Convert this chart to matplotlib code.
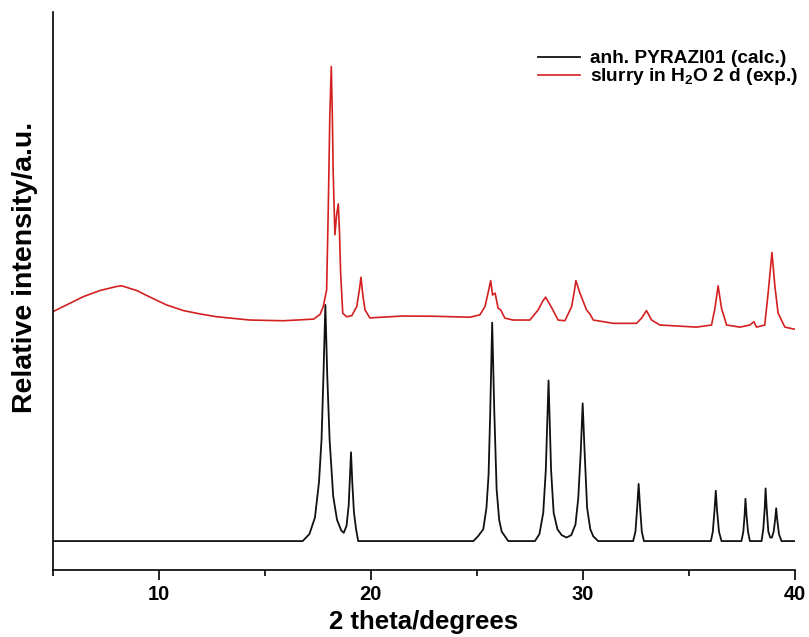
import matplotlib
matplotlib.use('Agg')
from matplotlib import pyplot as plt

plt.rcParams['font.family'] = ['Liberation Sans', 'DejaVu Sans']
plt.rcParams['font.weight'] = 'bold'
plt.rcParams['mathtext.fontset'] = 'custom'
plt.rcParams['mathtext.rm'] = 'Liberation Sans:bold'
plt.rcParams['mathtext.bf'] = 'Liberation Sans:bold'

# calculated pattern (anh. PYRAZI01)
calc_2theta = [5, 16.78, 17.1, 17.36, 17.55, 17.67, 17.76, 17.85, 17.94, 18.05, 18.22, 18.4,
               18.6, 18.72, 18.85, 18.95, 19.0, 19.06, 19.12, 19.2, 19.3, 19.4,
               24.83, 25.05, 25.3, 25.45, 25.55, 25.63, 25.72, 25.82, 25.93, 26.05, 26.17, 26.48,
               27.74, 27.95, 28.13, 28.25, 28.38, 28.5, 28.62, 28.8, 29.0, 29.23, 29.45, 29.65,
               29.78, 29.9, 29.99, 30.08, 30.2, 30.35, 30.49, 30.72,
               32.37, 32.48, 32.56, 32.63, 32.7, 32.78, 32.88,
               36.04, 36.13, 36.21, 36.27, 36.33, 36.42, 36.54,
               37.48, 37.57, 37.63, 37.67, 37.72, 37.79, 37.88,
               38.43, 38.51, 38.58, 38.62, 38.67, 38.75, 38.84, 38.92, 39.0, 39.07, 39.12,
               39.17, 39.25, 39.37, 40]
calc_int = [0, 0, 3, 10, 25, 43, 70, 100, 70, 43, 19, 9,
            4.5, 3.5, 6.5, 15, 25, 37.6, 25, 12, 5, 0,
            0, 2, 5, 14, 28, 55, 92.5, 55, 22, 9, 4, 0,
            0, 3, 12, 30, 68, 30, 12, 5, 2.5, 1.5, 2.5, 7,
            18, 38, 58.3, 38, 14, 5, 2, 0,
            0, 4, 14, 24.2, 14, 4, 0,
            0, 4, 13, 21.3, 13, 4, 0,
            0, 4, 11, 17.9, 11, 4, 0,
            0, 5, 14, 22.3, 14, 4, 1.5, 1.5, 4, 9, 13.9,
            9, 3, 0, 0]

# experimental pattern (slurry in H2O, 2 d), traced, already offset
exp_2theta = [5.01, 5.8, 6.43, 7.22, 8.0, 8.24, 8.95, 9.58, 10.36, 11.15, 11.93, 12.72, 14.29,
              15.86, 16.5, 17.3, 17.6, 17.75, 17.91, 17.99, 18.06, 18.13, 18.18, 18.22, 18.3,
              18.38, 18.46, 18.52, 18.57, 18.67, 18.85, 19.1, 19.33, 19.45, 19.53, 19.62, 19.72,
              19.95, 21.5, 23.0, 24.67, 25.14, 25.38, 25.55, 25.65, 25.74, 25.86, 26.0, 26.12,
              26.32, 26.71, 27.5, 27.89, 28.1, 28.24, 28.41, 28.6, 28.83, 29.15, 29.47, 29.6,
              29.67, 29.86, 30.17, 30.33, 30.49, 31.43, 32.53, 32.77, 33.0, 33.24, 33.63, 35.36,
              36.07, 36.23, 36.38, 36.54, 36.78, 37.41, 37.88, 38.07, 38.19, 38.58, 38.74, 38.92,
              39.06, 39.21, 39.53, 40]
exp_int = [97.2, 100.7, 103.5, 106.1, 107.8, 108.1, 106.1, 103.3, 100.0, 97.6, 96.2, 95.0, 93.6,
           93.3, 93.6, 94, 96, 99.3, 106.4, 141.7, 180, 201, 180, 155.9, 129.7,
           138, 142.8, 130, 113.6, 96.5, 95.0, 95.5, 99.3, 106, 111.7, 104, 97.9,
           94.5, 95.3, 95.2, 94.8, 95.8, 99.3, 106, 110.3, 104.2, 105.0, 98.6, 97.9,
           94.4, 93.6, 93.6, 97.9, 101.5, 103.3, 100.7, 97.6, 93.6, 93.3, 99.3, 106,
           110.3, 105.0, 97.9, 96.2, 93.6, 92.2, 92.2, 94.4, 97.6, 93.6, 91.5, 90.6,
           91.5, 98.6, 108.1, 98.6, 91.5, 90.6, 91.5, 92.9, 90.6, 91.5, 105.0, 122.2,
           107.8, 96.5, 90.6, 89.7]

fig = plt.figure(figsize=(8.09, 6.37), dpi=100)
ax = fig.add_axes([0.0655, 0.105, 0.917, 0.876])

ax.plot(calc_2theta, calc_int, color='#111111', lw=1.3, label='anh. PYRAZI01 (calc.)')
ax.plot(exp_2theta, exp_int, color='#d42020', lw=1.2, label=r'slurry in H$_2$O 2 d (exp.)')

ax.set_xlim(5, 40)
ax.set_ylim(-12.3, 224)
ax.set_xticks([10, 20, 30, 40])
ax.set_xticks([5, 15, 25, 35], minor=True)
ax.set_yticks([])
ax.tick_params(axis='x', which='major', direction='out', length=7, width=1.2, labelsize=14.5, pad=4)
ax.tick_params(axis='x', which='minor', direction='out', length=4, width=1.2)
for lab in ax.get_xticklabels():
    lab.set_fontweight('bold')

ax.spines['top'].set_visible(False)
ax.spines['right'].set_visible(False)
ax.spines['left'].set_linewidth(1.2)
ax.spines['bottom'].set_linewidth(1.2)

ax.set_xlabel('2 theta/degrees', fontsize=18.5, fontweight='bold')
ax.set_ylabel('Relative intensity/a.u.', fontsize=20.5, fontweight='bold')
ax.xaxis.set_label_coords(0.5, -0.071)
ax.yaxis.set_label_coords(-0.02, 0.543)

leg = ax.legend(loc='upper right', bbox_to_anchor=(1.0145, 0.946), frameon=False, borderaxespad=0,
                fontsize=13.8, handlelength=2.2, handletextpad=0.5, labelspacing=-0.05)

fig.savefig('out.png', dpi=100)
